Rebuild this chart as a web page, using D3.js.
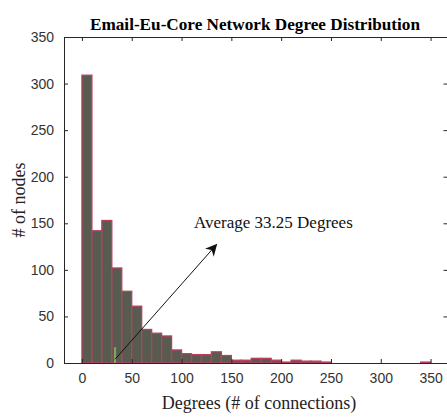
<!DOCTYPE html>
<html><head><meta charset="utf-8">
<script src="https://cdn.jsdelivr.net/npm/d3@7"></script>
<style>html,body{margin:0;padding:0;background:#fff;}svg{display:block;}</style>
</head><body>
<svg id="chart" width="447" height="417"></svg>
<script>
const title = "Email-Eu-Core Network Degree Distribution";
const xLabel = "Degrees (# of connections)";
const yLabel = "# of nodes";
const binStarts = [0,10,20,30,40,50,60,70,80,90,100,110,120,130,140,150,160,170,180,190,200,210,220,230,240,250,260,270,280,290,300,310,320,330,340];
const binWidth = 10;
const counts = [309,142,153,102,77,61,36,32,29,14,10,9,9,12,8,3,3,5,5,3,1,3,2,2,1,0,0,0,0,0,0,0,0,0,1];
const xTicks = [0,50,100,150,200,250,300,350];
const yTicks = [0,50,100,150,200,250,300,350];
const avgDegree = 33.25;
const avgLabel = "Average 33.25 Degrees";
const arrowEnd = [135, 127];

const svg = d3.select("#chart");
const L = 64, R = 447.5, T = 37, B = 363;
const x = d3.scaleLinear().domain([-18, 367]).range([L, R]);
const y = d3.scaleLinear().domain([0, 350]).range([B, T]);

// bars
svg.append("g").selectAll("rect").data(counts).join("rect")
  .attr("x", (d,i) => x(binStarts[i]))
  .attr("width", (d,i) => x(binStarts[i] + binWidth) - x(binStarts[i]))
  .attr("y", d => y(d))
  .attr("height", d => y(0) - y(d))
  .attr("fill", "#585c50")
  .attr("stroke", "#b8405e")
  .attr("stroke-width", 1.3)
  .attr("display", d => d > 0 ? null : "none");

// green average marker
svg.append("line")
  .attr("x1", x(avgDegree)).attr("x2", x(avgDegree))
  .attr("y1", y(0)).attr("y2", y(17))
  .attr("stroke", "#7cc55a").attr("stroke-width", 2).attr("opacity", 0.8);

// axes
const axisColor = "#262626";
const gx = svg.append("g").attr("transform", `translate(0,${B})`)
  .call(d3.axisBottom(x).tickValues(xTicks).tickSizeInner(-4).tickSizeOuter(0).tickPadding(10));
const gxt = svg.append("g").attr("transform", `translate(0,${T})`)
  .call(d3.axisTop(x).tickValues(xTicks).tickSizeInner(-4).tickSizeOuter(0).tickFormat(""));
const gy = svg.append("g").attr("transform", `translate(${L},0)`)
  .call(d3.axisLeft(y).tickValues(yTicks).tickSizeInner(-4).tickSizeOuter(0).tickPadding(10));
const gyr = svg.append("g").attr("transform", `translate(${R},0)`)
  .call(d3.axisRight(y).tickValues(yTicks).tickSizeInner(-4).tickSizeOuter(0).tickFormat(""));
[gx,gxt,gy,gyr].forEach(g => {
  g.selectAll("path").attr("stroke", axisColor).attr("stroke-width", 1);
  g.selectAll("line").attr("stroke", axisColor).attr("stroke-width", 1);
  g.selectAll("text").attr("fill", "#333").attr("font-family", "'Liberation Sans', Arial, sans-serif").attr("font-size", 14);
});

// arrow
const defs = svg.append("defs");
defs.append("marker").attr("id", "ah").attr("viewBox", "0 0 10 10")
  .attr("refX", 9).attr("refY", 5).attr("markerWidth", 12).attr("markerHeight", 12)
  .attr("markerUnits", "userSpaceOnUse").attr("orient", "auto")
  .append("path").attr("d", "M0,0 L10,5 L0,10 L3,5 Z").attr("fill", "#111");
svg.append("line")
  .attr("x1", x(avgDegree)).attr("y1", y(4))
  .attr("x2", x(arrowEnd[0])).attr("y2", y(arrowEnd[1]))
  .attr("stroke", "#111").attr("stroke-width", 1)
  .attr("marker-end", "url(#ah)");

const serif = "'Liberation Serif', 'Times New Roman', serif";
svg.append("text").attr("x", 194).attr("y", 228)
  .attr("font-family", serif).attr("font-size", 17).attr("fill", "#111")
  .text(avgLabel);

// title and labels
svg.append("text").attr("x", 255).attr("y", 30).attr("text-anchor", "middle")
  .attr("font-family", serif).attr("font-weight", "bold").attr("font-size", 17).attr("fill", "#000")
  .attr("textLength", 330).attr("lengthAdjust", "spacingAndGlyphs")
  .text(title);
svg.append("text").attr("x", 259).attr("y", 409).attr("text-anchor", "middle")
  .attr("font-family", serif).attr("font-size", 18).attr("fill", "#222")
  .text(xLabel);
svg.append("text").attr("transform", `translate(25,${(T + B) / 2}) rotate(-90)`).attr("text-anchor", "middle")
  .attr("font-family", serif).attr("font-size", 18).attr("fill", "#222")
  .text(yLabel);
</script>
</body></html>
